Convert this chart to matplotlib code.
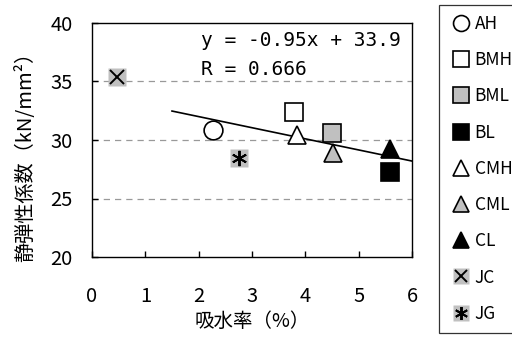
import matplotlib
matplotlib.use('Agg', force=True)

import matplotlib.pyplot as plt
from matplotlib.legend_handler import HandlerTuple

plt.rcParams['font.family'] = ['Noto Sans CJK JP', 'DejaVu Sans']

# ---------- data ----------
labels = ['AH', 'BMH', 'BML', 'BL', 'CMH', 'CML', 'CL', 'JC', 'JG']
absorption = [2.27, 3.78, 4.50, 5.58, 3.84, 4.51, 5.59, 0.47, 2.76]
modulus = [30.85, 32.4, 30.6, 27.3, 30.4, 28.9, 29.2, 35.4, 28.5]
slope, intercept = -0.95, 33.9
r_value = 0.666
fit_x = [1.5, 6.0]

# ---------- styles ----------
GRAY = '#c0c0c0'
markers = ['o', 's', 's', 's', '^', '^', '^', 'x', (6, 2, 0)]
faces = ['white', 'white', GRAY, 'black', 'white', GRAY, 'black', 'none', 'none']
inner_size = [None] * 7 + [9.5, 11]
backed = [False] * 7 + [True, True]   # JC / JG sit on a gray square

fig = plt.figure(figsize=(5.12, 3.4), dpi=100)
ax = fig.add_axes([92 / 512, 1 - 257 / 340, 320 / 512, 234 / 340])

handles = []
for x, y, m, fc, bg, isz in zip(absorption, modulus, markers, faces, backed, inner_size):
    if bg:
        h_bg, = ax.plot([x], [y], ls='none', marker='s', ms=13, mfc=GRAY,
                        mec='none', zorder=3)
        h_m, = ax.plot([x], [y], ls='none', marker=m, ms=isz, mec='black',
                       mew=1.4, zorder=4)
        handles.append((h_bg, h_m))
    else:
        h, = ax.plot([x], [y], ls='none', marker=m, ms=13.5, mfc=fc,
                     mec='black', mew=1.2, zorder=3)
        handles.append(h)

# trend line
fit_y = [slope * v + intercept for v in fit_x]
ax.plot(fit_x, fit_y, color='black', lw=1.2, zorder=2)

ax.text(2.04, 38.5, f'y = {slope:.2f}x + {intercept:.1f}', fontsize=14,
        family='DejaVu Sans Mono', va='center')
ax.text(2.04, 36.05, f'R = {r_value:.3f}', fontsize=14,
        family='DejaVu Sans Mono', va='center')

ax.set_xlim(0, 6)
ax.set_ylim(20, 40)
ax.set_xticks(range(0, 7))
ax.set_yticks(range(20, 41, 5))
for yv in (25, 30, 35):
    ax.axhline(yv, color='#999999', ls=(0, (5, 4)), lw=0.9, zorder=1)

ax.tick_params(direction='in', length=4, width=1, labelsize=14.5)
ax.tick_params(axis='x', pad=21)
ax.tick_params(axis='y', pad=14)
for s in ax.spines.values():
    s.set_linewidth(1)

ax.set_xlabel('吸水率（%）', fontsize=14, labelpad=3)
ax.set_ylabel('静弾性係数（kN/mm²）', fontsize=14.5)
ax.yaxis.set_label_coords(-0.175, 0.45)

# legend runs off the right edge, as in the original
leg = fig.legend(handles, labels, loc='upper left',
                 bbox_to_anchor=(439 / 512, 1 - 4.5 / 340), borderaxespad=0,
                 fontsize=12.5, markerscale=0.85, handlelength=1.3,
                 handletextpad=0.15, labelspacing=1.05, borderpad=0.6,
                 fancybox=False, edgecolor='black',
                 handler_map={tuple: HandlerTuple(ndivide=1, pad=0)})
leg.get_frame().set_linewidth(0.9)

fig.savefig('out.png', dpi=100)
